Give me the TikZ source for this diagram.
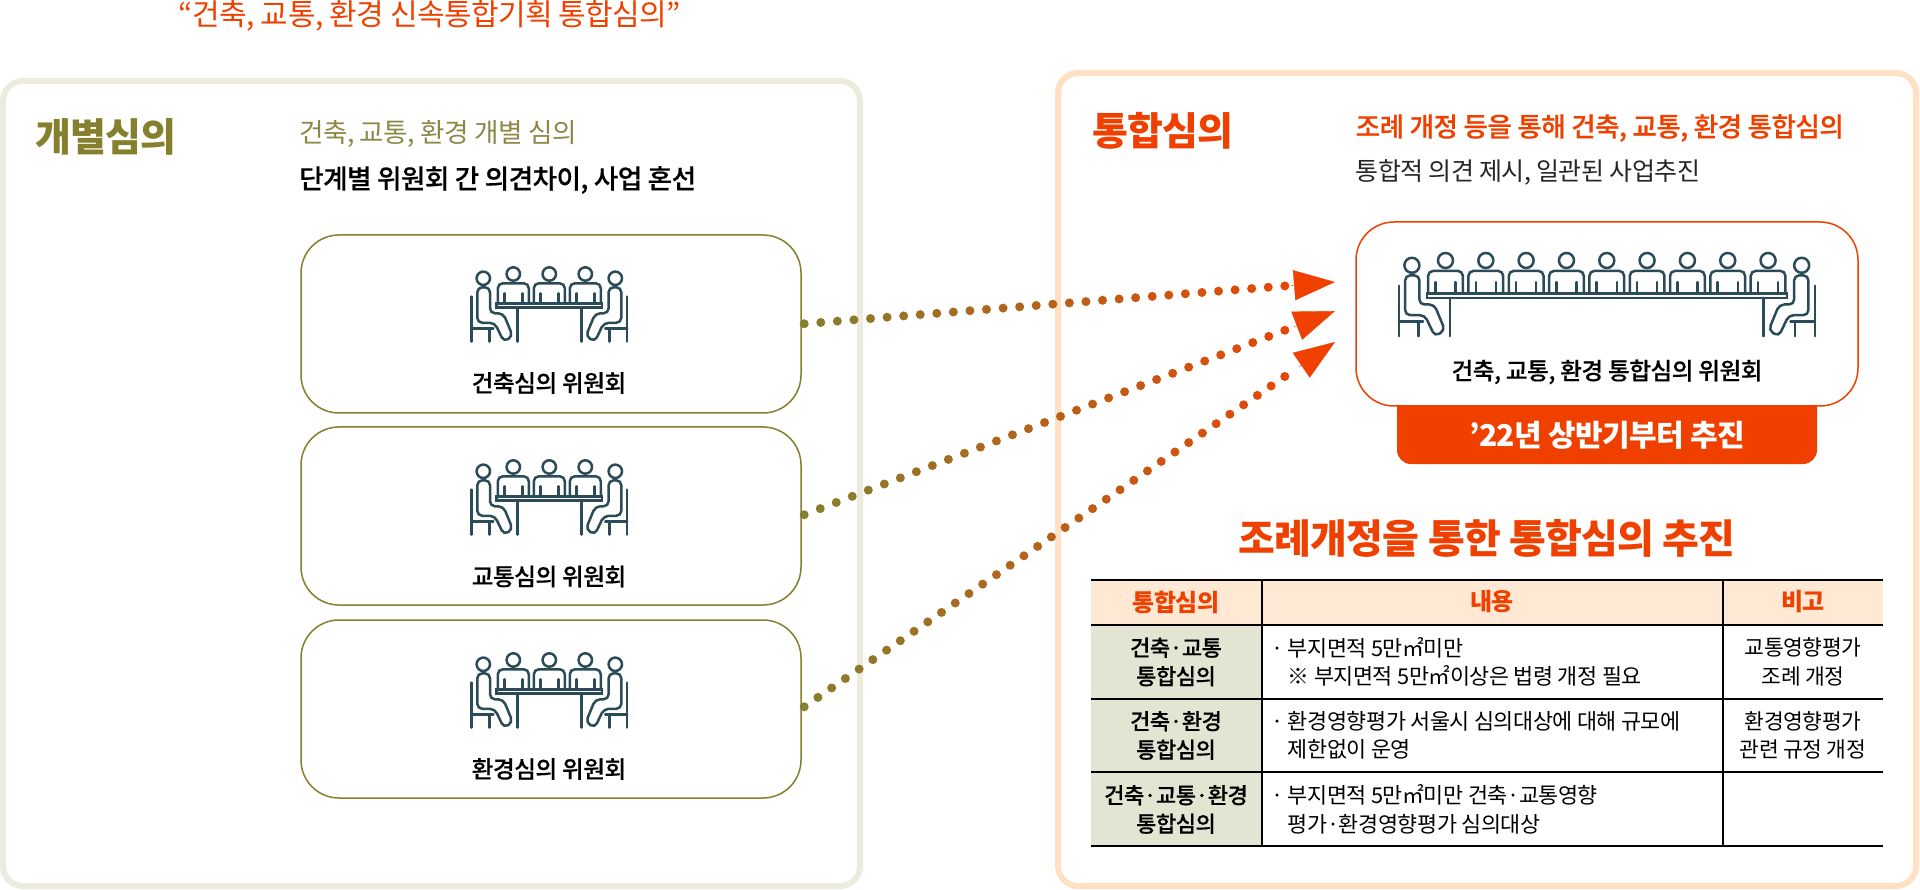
\documentclass[tikz,border=0pt]{standalone}
\usepackage{fontspec}
\usepackage{xcolor}
\setmainfont{Noto Sans CJK KR}[LetterSpace=-2]
\newfontfamily\medfont{Noto Sans CJK KR Medium}[LetterSpace=-2,FakeBold=0.4]
\usepackage{tikz}
\usetikzlibrary{
  arrows.meta,
  calc
}
\definecolor{oliveline}{RGB}{133,127,46}
\definecolor{olivetext}{RGB}{140,136,70}
\definecolor{oliveband}{RGB}{237,235,221}
\definecolor{peachband}{RGB}{255,224,194}
\definecolor{hotorange}{RGB}{240,64,0}
\definecolor{icondark}{RGB}{42,75,87}
\definecolor{headfill}{RGB}{255,232,212}
\definecolor{rowfill}{RGB}{228,228,210}
\newcommand{\fsz}[2]{\fontsize{#1}{#2}\selectfont}
% one person at the side of the table
\newcommand{\sideperson}{%
  \draw (-30,-25) circle (6.7);
  \draw[rounded corners=5] (-36,-16) -- (-36,19.5) -- (-18.5,19.5) -- (-9.5,38.5)
    -- (-0.5,33) -- (-10,10) -- (-23.3,10) -- (-23.3,-16) -- cycle;
  \draw (-41.7,-6.7) -- (-41.7,38.3);
  \draw (-41.7,25) -- (-20,25);
  \draw (-24,25) -- (-24,38.3);
}
\newcommand{\meetingicon}[4]{%
  \begin{scope}[shift={(#1,#2)},scale=#4,iconline]
    \pgfmathsetmacro\iconw{(#3-1)*36}
    \foreach \k in {1,...,#3}{
      \begin{scope}[shift={({(\k-1)*36},0)}]
        \draw (0,-29.3) circle (6.7);
        \draw[rounded corners=5] (-15.5,0) -- (-15.5,-20) -- (15.5,-20) -- (15.5,0);
        \draw (-9,-10) -- (-9,0);
        \draw (9,-10) -- (9,0);
      \end{scope}
    }
    \draw (-16.7,0) rectangle (\iconw+16.7,4);
    \draw (4,4) -- (4,38.3);
    \draw (\iconw-4,4) -- (\iconw-4,38.3);
    \sideperson
    \begin{scope}[shift={(\iconw,0)},xscale=-1]
      \sideperson
    \end{scope}
  \end{scope}
}
% dots go from olive to orange, then the head
\newcommand{\dotarrow}[3]{%
  \foreach \i in {0,...,#3}{
    \pgfmathsetmacro\t{0.006+0.9*\i/#3}
    \pgfmathsetmacro\mixv{100-100*\t}
    \fill[oliveline!\mixv!hotorange] ($(#1)!\t!(#2)$) circle (4.5);
  }
  \draw[hotorange,-{Triangle[length=41pt,width=30pt]}] ($(#2)!44pt!(#1)$) -- (#2);
}

\begin{document}
\begin{tikzpicture}[
  x=1pt,y=-1pt,
  iconline/.style={draw=icondark,line width=2.5pt,line cap=round},
  panel/.style={draw,line width=6pt,rounded corners=20pt,fill=white,outer sep=0pt},
  oldbox/.style={draw=oliveline,line width=1.5pt,rounded corners=38pt,fill=white,
                 minimum width=500pt,minimum height=178pt,outer sep=0pt},
  newbox/.style={draw=hotorange,line width=1.5pt,rounded corners=38pt,fill=white,
                 minimum width=502pt,minimum height=184pt,outer sep=0pt},
  bighead/.style={font=\fsz{39}{42}\bfseries,anchor=west,inner sep=0pt},
  subhead/.style={font=\fsz{25}{30},anchor=west,inner sep=0pt},
  boxlabel/.style={font=\medfont\fsz{23.6}{28},text=black,inner sep=0pt},
  thead/.style={font=\fsz{24}{26}\bfseries,text=hotorange,inner sep=0pt},
  rowhead/.style={font=\medfont\fsz{22}{28.5},align=center,inner sep=0pt},
  cellleft/.style={font=\fsz{21.8}{28.5},align=left,anchor=west,inner sep=0pt},
  cellmid/.style={font=\fsz{21.5}{28.5},align=center,inner sep=0pt},
  rule/.style={draw=black,line width=1.4pt},
  thickrule/.style={draw=black,line width=2.4pt},
]
\useasboundingbox (0,0) rectangle (1920,890);

% titles
\node[font=\fsz{30}{34},text=hotorange,inner sep=0pt] (title) at (430,16)
  {“건축, 교통, 환경 신속통합기획 통합심의”};

% left panel
\node[panel,draw=oliveband,minimum width=857pt,minimum height=805pt] (leftpanel) at (431.5,483.5) {};
\node[bighead,text=oliveline] (lefthead) at (35,137) {개별심의};
\node[subhead,font=\fsz{26.6}{30},text=olivetext] (leftsub) at (299,134) {건축, 교통, 환경 개별 심의};
\node[subhead,font=\medfont\fsz{26.6}{30},text=black] (leftnote) at (299,180) {단계별 위원회 간 의견차이, 사업 혼선};

\node[oldbox] (archbox) at (551,324) {};
\node[oldbox] (trafficbox) at (551,516) {};
\node[oldbox] (envbox) at (551,709) {};
\meetingicon{513.3}{303.3}{3}{1}
\meetingicon{513.3}{496.3}{3}{1}
\meetingicon{513.3}{689.3}{3}{1}
\node[boxlabel] (archlabel) at (549,383) {건축심의 위원회};
\node[boxlabel] (trafficlabel) at (549,576.5) {교통심의 위원회};
\node[boxlabel] (envlabel) at (549,769) {환경심의 위원회};

% right panel
\node[panel,draw=peachband,minimum width=858pt,minimum height=813pt] (rightpanel) at (1487,479.5) {};
\node[bighead,text=hotorange] (righthead) at (1092,131) {통합심의};
\node[subhead,font=\medfont\fsz{26.6}{30},text=hotorange] (rightsub) at (1355.5,128) {조례 개정 등을 통해 건축, 교통, 환경 통합심의};
\node[subhead,text=black!85] (rightnote) at (1355.5,172) {통합적 의견 제시, 일관된 사업추진};

\draw[fill=hotorange,draw=none,rounded corners=14pt] (1397,390) rectangle (1817,464);
\node[newbox] (allbox) at (1607,314) {};
\meetingicon{1445.5}{293.3}{9}{1.12}
\node[boxlabel] (alllabel) at (1607,372) {건축, 교통, 환경 통합심의 위원회};
\node[font=\fsz{30}{32}\bfseries,text=white,inner sep=0pt] (startlabel) at (1607,435) {\char39 22년 상반기부터 추진};

% arrows
\coordinate (tip1) at (1335,282);
\coordinate (tip2) at (1335,311);
\coordinate (tip3) at (1335,342);
\dotarrow{archbox.east}{tip1}{29}
\dotarrow{trafficbox.east}{tip2}{30}
\dotarrow{envbox.east}{tip3}{35}

% table
\node[font=\fsz{40}{44}\bfseries,text=hotorange,inner sep=0pt] (tabletitle) at (1487,538) {조례개정을 통한 통합심의 추진};
\fill[headfill] (1091,580) rectangle (1883,625);
\fill[rowfill] (1091,625) rectangle (1262,846);
\node[thead] (th1) at (1176,602) {통합심의};
\node[thead] (th2) at (1492,602) {내용};
\node[thead] (th3) at (1803,602) {비고};
\node[rowhead] (r1a) at (1176,662) {건축·교통\\통합심의};
\node[rowhead] (r2a) at (1176,735.5) {건축·환경\\통합심의};
\node[rowhead] (r3a) at (1176,809.5) {건축·교통·환경\\통합심의};
\node[cellleft] (r1b) at (1271,662) {· 부지면적 5만㎡미만\\\phantom{·\ }※ 부지면적 5만㎡이상은 법령 개정 필요};
\node[cellleft] (r2b) at (1271,735.5) {· 환경영향평가 서울시 심의대상에 대해 규모에\\\phantom{·\ }제한없이 운영};
\node[cellleft] (r3b) at (1271,809.5) {· 부지면적 5만㎡미만 건축·교통영향\\\phantom{·\ }평가·환경영향평가 심의대상};
\node[cellmid] (r1c) at (1803,662) {교통영향평가\\조례 개정};
\node[cellmid] (r2c) at (1803,735.5) {환경영향평가\\관련 규정 개정};
\draw[thickrule] (1091,580) -- (1883,580);
\draw[thickrule] (1091,625) -- (1883,625);
\draw[rule] (1091,699) -- (1883,699);
\draw[rule] (1091,772) -- (1883,772);
\draw[thickrule] (1091,846) -- (1883,846);
\draw[rule] (1262,580) -- (1262,846);
\draw[rule] (1723,580) -- (1723,846);
\end{tikzpicture}
\end{document}
